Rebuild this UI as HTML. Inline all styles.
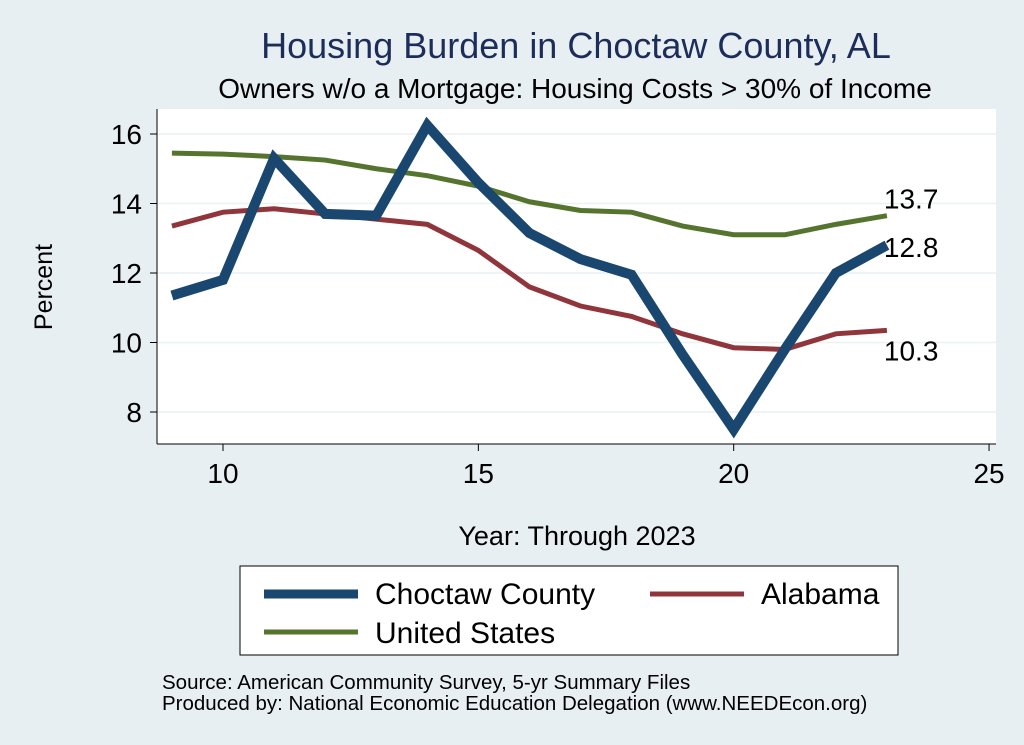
<!DOCTYPE html>
<html><head><meta charset="utf-8"><style>
body{margin:0;background:#e8eff3;}
svg{display:block;font-family:"Liberation Sans",Arial,sans-serif;}
</style></head><body>
<svg width="1024" height="745" viewBox="0 0 1024 745">
<rect x="0" y="0" width="1024" height="745" fill="#e8eff3"/>
<text x="576" y="58" text-anchor="middle" font-size="36" fill="#1c2d5a">Housing Burden in Choctaw County, AL</text>
<text x="575" y="98" text-anchor="middle" font-size="28" fill="#000">Owners w/o a Mortgage: Housing Costs &gt; 30% of Income</text>
<rect x="157" y="109" width="839" height="335" fill="#fff"/>
<g id="grid"></g>
<g id="axes"></g>
<g id="series"></g>
<text x="52" y="287" text-anchor="middle" font-size="25" transform="rotate(-90 52 287)">Percent</text>
<text x="577" y="545" text-anchor="middle" font-size="27">Year: Through 2023</text>
<g>
<rect x="240" y="566" width="658" height="89" fill="#fff" stroke="#000" stroke-width="1"/>
<g><line x1="264" y1="594" x2="358" y2="594" stroke="#1a476f" stroke-width="9"/><text x="375" y="604" font-size="30">Choctaw County</text></g>
<g><line x1="650" y1="594" x2="744" y2="594" stroke="#90353b" stroke-width="5"/><text x="761" y="604" font-size="30">Alabama</text></g>
<g><line x1="264" y1="632" x2="358" y2="632" stroke="#55752f" stroke-width="5"/><text x="375" y="643" font-size="30">United States</text></g>
</g>
<text x="162" y="689" font-size="20.5">Source: American Community Survey, 5-yr Summary Files</text>
<text x="162" y="710" font-size="20.5">Produced by: National Economic Education Delegation (www.NEEDEcon.org)</text>
</svg>
<script>
const years=[9,10,11,12,13,14,15,16,17,18,19,20,21,22,23];
const choctaw=[11.35,11.8,15.3,13.7,13.65,16.25,14.6,13.15,12.4,11.95,9.65,7.5,9.8,12.0,12.8];
const alabama=[13.35,13.75,13.85,13.7,13.55,13.4,12.65,11.6,11.05,10.75,10.25,9.85,9.8,10.25,10.35];
const us=[15.45,15.42,15.35,15.25,15.0,14.8,14.5,14.05,13.8,13.75,13.35,13.1,13.1,13.4,13.65];
const xTicks=[10,15,20,25];
const yTicks=[8,10,12,14,16];
const NS="http://www.w3.org/2000/svg";
function xs(v){return 223+(v-10)*51.07;}
function ys(v){return 412-(v-8)*34.75;}
function mk(tag,attrs,parent,text){const e=document.createElementNS(NS,tag);for(const k in attrs)e.setAttribute(k,attrs[k]);if(text!==undefined)e.textContent=text;document.getElementById(parent).appendChild(e);return e;}
yTicks.forEach(t=>{
 const g=mk('line',{x1:157,x2:996,y1:ys(t),y2:ys(t),stroke:'#eaf2f3','stroke-width':1.5},'grid');
 
 
 const tk=mk('line',{x1:150,x2:157,y1:ys(t),y2:ys(t),stroke:'#000'},'axes');
 
 
 const lb=mk('text',{x:142,y:ys(t)+10,'text-anchor':'end','font-size':28},'axes',String(t));
 
 
});
xTicks.forEach(t=>{
 const tk=mk('line',{x1:xs(t),x2:xs(t),y1:444,y2:451,stroke:'#000'},'axes');
 
 
 const lb=mk('text',{x:xs(t),y:483,'text-anchor':'middle','font-size':28},'axes',String(t));
 
 
});
const ya=mk('line',{x1:157,x2:157,y1:109,y2:444,stroke:'#000'},'axes');


const xa=mk('line',{x1:157,x2:996,y1:444,y2:444,stroke:'#000'},'axes');


function line(vals,color,w,name){
 const p=mk('polyline',{points:years.map((y,i)=>xs(y)+','+ys(vals[i])).join(' '),fill:'none',stroke:color,'stroke-width':w,'stroke-linejoin':'miter'},'series');
 
 
}
line(us,'#55752f',5,'line-united-states');
line(alabama,'#90353b',5,'line-alabama');
line(choctaw,'#1a476f',10,'line-choctaw-county');
const last=years.length-1;
[[us,'13.7',-7,'label-us-last'],[choctaw,'12.8',12,'label-choctaw-last'],[alabama,'10.3',30,'label-alabama-last']].forEach(([v,txt,dy,nm])=>{
 const t=mk('text',{x:xs(years[last])-3,y:ys(v[last])+dy,'font-size':28},'series',txt);
 
 
});
</script>
</body></html>
